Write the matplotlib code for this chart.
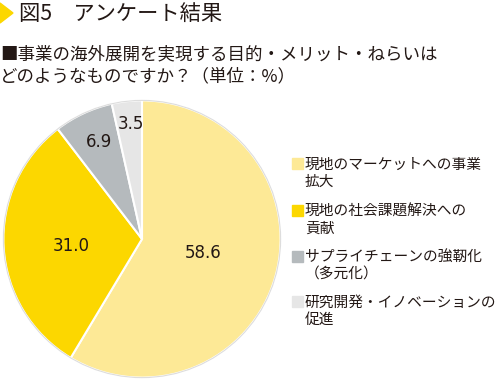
import matplotlib
matplotlib.use("Agg")
import matplotlib.pyplot as plt
from matplotlib.patches import Rectangle, Polygon

plt.rcParams['font.family'] = ['Noto Sans CJK JP', 'DejaVu Sans']

labels = ["現地のマーケットへの事業\n拡大", "現地の社会課題解決への\n貢献",
          "サプライチェーンの強靭化\n（多元化）", "研究開発・イノベーションの\n促進"]
values = [58.6, 31.0, 6.9, 3.5]
colors = ["#FDE996", "#FCD700", "#B5BABD", "#E6E6E6"]
title = "図5　アンケート結果"
subtitle = "■事業の海外展開を実現する目的・メリット・ねらいは\nどのようなものですか？（単位：%）"
txt = "#231815"

W, H = 500, 379
fig = plt.figure(figsize=(5, 3.79), dpi=100)

def fx(x): return x / W
def fy(y): return 1 - y / H

# title triangle
fig.patches.append(Polygon([[fx(0), fy(3)], [fx(13), fy(13)], [fx(0), fy(23)]],
                           closed=True, transform=fig.transFigure, color="#FCD700"))
fig.text(fx(19), fy(14), title, fontsize=15.3, color=txt, va="center", ha="left")
fig.text(fx(0), fy(65), subtitle, fontsize=12.6, color=txt, va="center", ha="left",
         linespacing=1.3)

ax = fig.add_axes([fx(2), fy(379), 280 / W, 280 / H])
wedges, texts = ax.pie(values, colors=colors, startangle=90, counterclock=False,
                       wedgeprops=dict(edgecolor="white", linewidth=1.5))
ax.add_patch(plt.Circle((0, 0), 1.0, fill=False, edgecolor="#DDDDDD", linewidth=0.8))
ax.set_aspect("equal")
ax.set_xlim(-1.01, 1.01)
ax.set_ylim(-1.01, 1.01)
ax.axis("off")

label_pos = [(0.44, -0.10), (-0.51, -0.05), (-0.31, 0.70), (-0.08, 0.83)]
for v, (x, y) in zip(values, label_pos):
    ax.text(x, y, f"{v:.1f}", fontsize=12, color=txt, ha="center", va="center",
            family=["DejaVu Sans"])

# legend
ys = [163.5, 210, 256, 301]
for lab, c, y in zip(labels, colors, ys):
    fig.patches.append(Rectangle((fx(292), fy(y + 5.5)), 11 / W, 11 / H,
                                 transform=fig.transFigure, color=c))
    fig.text(fx(305), fy(y + 10), lab, fontsize=10.6, color=txt, va="center",
             ha="left", linespacing=1.3)

fig.savefig("out.png", dpi=100)
